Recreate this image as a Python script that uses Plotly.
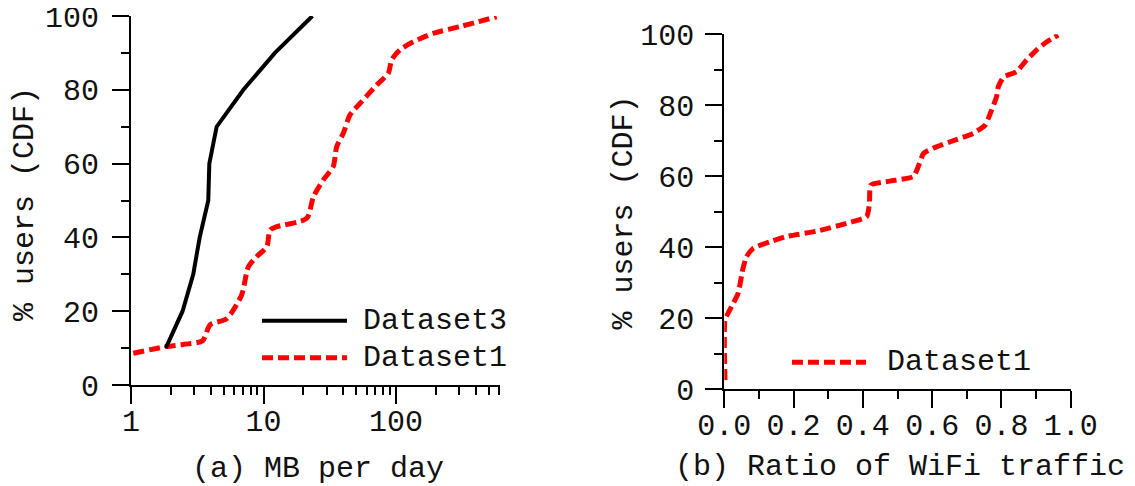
import plotly.graph_objects as go

# ---- data ----
ds3_mb = [1.83, 2.45, 2.95, 3.3, 3.83, 3.9, 4.43, 7.05, 12.2, 23.4]
ds3_cdf = [10, 20, 30, 40, 50, 60, 70, 80, 90, 100]

ds1_mb = [1.04, 1.83, 2.48, 3.47, 3.95, 5.28, 6.84, 7.68, 8.88, 10.6, 11.2, 12.6,
          21.2, 23.8, 28.3, 33.6, 35.7, 40, 45, 53.5, 71.5, 87.5, 92.8, 107, 135,
          191, 303, 575]
ds1_cdf = [8.6, 10.4, 11, 12, 16.3, 18, 24.4, 32, 34.8, 37.5, 42, 42.9, 45.2, 51,
           55.6, 59.2, 64.6, 68.2, 73.2, 76.3, 81.3, 84.5, 88.1, 90.8, 93, 95.3,
           97.1, 99.8]

wifi_ratio = [0.002, 0.002, 0.016, 0.04, 0.053, 0.064, 0.084, 0.132, 0.18, 0.267,
              0.353, 0.411, 0.419, 0.423, 0.478, 0.546, 0.56, 0.575, 0.603, 0.652,
              0.719, 0.753, 0.772, 0.786, 0.791, 0.806, 0.844, 0.873, 0.902, 0.931,
              0.964]
wifi_cdf = [2.5, 19.5, 22.3, 27, 33.6, 37.3, 39.7, 41.5, 43, 44.5, 46.7, 48.6, 52.3,
            57.5, 58.6, 59.9, 62.7, 66.4, 67.9, 69.7, 72.1, 74.4, 78.7, 82.4, 85.2,
            87.9, 89.5, 92.8, 95.6, 97.9, 99.8]

mb_major = [1, 10, 100]
mb_major_text = ["1", "10", "100"]
mb_minor = [2, 3, 4, 5, 6, 7, 8, 9, 20, 30, 40, 50, 60, 70, 80, 90, 200, 300, 400, 500, 600]
ratio_ticks = [0.0, 0.2, 0.4, 0.6, 0.8, 1.0]
ratio_text = ["0.0", "0.2", "0.4", "0.6", "0.8", "1.0"]
cdf_ticks = [0, 20, 40, 60, 80, 100]

# ---- style ----
OFF = 8                      # page body margin of the browser
W, H = 1135 - OFF, 486 - OFF
FONT = "Liberation Mono, Courier New, monospace"
FS = 30
TXT = "#111111"
RED = "#ff0000"
DOT = "11px,5px"
MB_RANGE = [0, 2.785]        # log10 range of the MB axis

fig = go.Figure()

fig.add_trace(go.Scatter(x=ds1_mb, y=ds1_cdf, mode="lines", name="Dataset1",
                         line=dict(color=RED, width=5, dash=DOT, shape="spline", smoothing=0.7),
                         xaxis="x", yaxis="y", showlegend=False, cliponaxis=False))
fig.add_trace(go.Scatter(x=ds3_mb, y=ds3_cdf, mode="lines", name="Dataset3",
                         line=dict(color="black", width=4),
                         xaxis="x3", yaxis="y", showlegend=False, cliponaxis=False))
# empty trace so that the long-tick axis of panel (b) is created
fig.add_trace(go.Scatter(x=[], y=[], mode="lines", xaxis="x2", yaxis="y2",
                         showlegend=False, hoverinfo="skip"))
fig.add_trace(go.Scatter(x=wifi_ratio, y=wifi_cdf, mode="lines", name="Dataset1",
                         line=dict(color=RED, width=5, dash=DOT, shape="spline", smoothing=0.5),
                         xaxis="x4", yaxis="y2", showlegend=False, cliponaxis=False))

def px(x):
    return (x - OFF) / W

def py(y):
    return 1 - (y - OFF) / H

tickfont = dict(family=FONT, size=FS, color=TXT)
axis_common = dict(showgrid=False, zeroline=False, showline=True, linecolor="black",
                   linewidth=2, ticks="outside", tickcolor="black", tickwidth=2,
                   ticklen=17, automargin=False, ticklabeloverflow="allow",
                   tickfont=tickfont)
minor_common = dict(ticks="outside", ticklen=8, tickwidth=2, tickcolor="black", showgrid=False)
# overlay axes that carry the x tick labels (placed closer to the axis line)
label_axis = dict(showgrid=False, zeroline=False, showline=True, linecolor="black",
                  linewidth=2, ticks="outside", ticklen=8, tickwidth=2, tickcolor="black",
                  automargin=False, ticklabeloverflow="allow", tickfont=tickfont)

fig.update_layout(
    width=W, height=H, margin=dict(l=0, r=0, t=0, b=0),
    plot_bgcolor="white", paper_bgcolor="white", showlegend=False,
    xaxis=dict(**axis_common, type="log", range=MB_RANGE,
               domain=[px(131), px(500)], anchor="y",
               tickvals=mb_major, showticklabels=False,
               minor=dict(tickvals=mb_minor, **minor_common)),
    xaxis3=dict(**label_axis, type="log", range=MB_RANGE, overlaying="x", anchor="y",
                side="bottom", tickvals=mb_major, ticktext=mb_major_text,
                minor=dict(tickvals=mb_minor, **minor_common)),
    yaxis=dict(**axis_common, range=[0, 100], domain=[py(385), py(16)], anchor="x",
               tickvals=cdf_ticks, ticklabelstandoff=7,
               minor=dict(dtick=10, **minor_common)),
    xaxis2=dict(**axis_common, range=[0, 1.0], domain=[px(724.3), px(1070.7)], anchor="y2",
                tickvals=ratio_ticks, showticklabels=False,
                minor=dict(dtick=0.1, **minor_common)),
    xaxis4=dict(**label_axis, range=[0, 1.0], overlaying="x2", anchor="y2",
                side="bottom", tickvals=ratio_ticks, ticktext=ratio_text,
                minor=dict(dtick=0.1, **minor_common)),
    yaxis2=dict(**axis_common, range=[0, 100], domain=[py(389), py(34.3)], anchor="x2",
                tickvals=cdf_ticks, ticklabelstandoff=5,
                minor=dict(dtick=10, **minor_common)),
)

# ---- axis titles ----
titles = [
    (317.5, 469, "(a) MB per day", 0),
    (900, 467, "(b) Ratio of WiFi traffic", 0),
    (25, 204, "% users (CDF)", -90),
    (623, 212.5, "% users (CDF)", -90),
]
for x, y, t, ang in titles:
    fig.add_annotation(xref="paper", yref="paper", x=px(x), y=py(y), text=t,
                       textangle=ang, showarrow=False, xanchor="center", yanchor="middle",
                       font=dict(family=FONT, size=FS, color=TXT))

# ---- manual legends (long line samples as in the reference) ----
legend_items = [
    (262, 347, 320.7, 361, "Dataset3", dict(color="black", width=4)),
    (262, 347, 357.7, 361, "Dataset1", dict(color=RED, width=5, dash=DOT)),
    (792, 866, 362.3, 885, "Dataset1", dict(color=RED, width=5, dash=DOT)),
]
for x0, x1, yc, tx, label, ln in legend_items:
    fig.add_shape(type="line", xref="paper", yref="paper",
                  x0=px(x0), x1=px(x1), y0=py(yc), y1=py(yc), line=ln)
    fig.add_annotation(xref="paper", yref="paper", x=px(tx), y=py(yc),
                       text=label, showarrow=False, xanchor="left", yanchor="middle",
                       font=dict(family=FONT, size=FS, color=TXT))

fig.write_html("out.html")
